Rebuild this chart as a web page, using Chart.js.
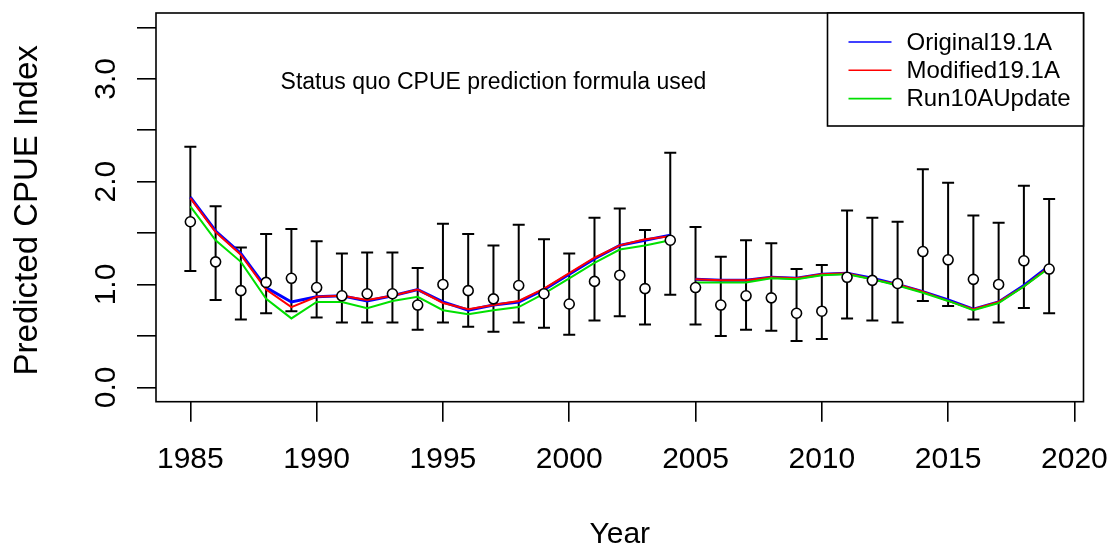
<!DOCTYPE html>
<html>
<head>
<meta charset="utf-8">
<script src="https://cdn.jsdelivr.net/npm/chart.js@4.4.1/dist/chart.umd.min.js"></script>
<style>
  html, body { margin: 0; padding: 0; background: #fff; }
  #wrap { width: 1110px; height: 546px; }
</style>
</head>
<body>
<div id="wrap"><canvas id="cpueChart"></canvas></div>
<script>
// years and the three model runs
const years = [1985, 1986, 1987, 1988, 1989, 1990, 1991, 1992, 1993, 1994,
  1995, 1996, 1997, 1998, 1999, 2000, 2001, 2002, 2003, 2004,
  2005, 2006, 2007, 2008, 2009, 2010, 2011, 2012, 2013, 2014,
  2015, 2016, 2017, 2018, 2019];
const original19 = [1.85, 1.52, 1.30, 0.97, 0.83, 0.88, 0.89, 0.84, 0.89, 0.95,
  0.83, 0.75, 0.80, 0.83, 0.95, 1.10, 1.25, 1.38, 1.43, 1.48,
  1.05, 1.04, 1.04, 1.07, 1.06, 1.10, 1.11, 1.06, 1.00, 0.93,
  0.85, 0.76, 0.83, 0.99, 1.18];
const modified19 = [1.84, 1.51, 1.29, 0.95, 0.78, 0.88, 0.89, 0.85, 0.89, 0.95,
  0.82, 0.76, 0.80, 0.84, 0.96, 1.11, 1.26, 1.38, 1.44, 1.47,
  1.05, 1.04, 1.04, 1.07, 1.06, 1.10, 1.11, 1.05, 1.00, 0.93,
  0.84, 0.76, 0.83, 0.98, 1.17];
const run10A = [1.76, 1.43, 1.22, 0.86, 0.67, 0.83, 0.83, 0.77, 0.84, 0.88,
  0.75, 0.71, 0.75, 0.78, 0.91, 1.06, 1.21, 1.34, 1.38, 1.43,
  1.02, 1.02, 1.02, 1.06, 1.05, 1.09, 1.10, 1.05, 0.99, 0.92,
  0.84, 0.75, 0.82, 0.98, 1.16];
// observed CPUE with its interval
const obsCpue = [1.61, 1.22, 0.94, 1.02, 1.06, 0.97, 0.89, 0.91, 0.91, 0.80,
  1.00, 0.94, 0.86, 0.99, 0.91, 0.81, 1.03, 1.09, 0.96, 1.43,
  0.97, 0.80, 0.89, 0.87, 0.72, 0.74, 1.07, 1.04, 1.01, 1.32,
  1.24, 1.05, 1.00, 1.23, 1.15];
const obsUpper = [2.34, 1.76, 1.36, 1.49, 1.54, 1.42, 1.30, 1.31, 1.31, 1.16,
  1.59, 1.49, 1.38, 1.58, 1.44, 1.30, 1.65, 1.74, 1.53, 2.28,
  1.56, 1.27, 1.43, 1.40, 1.15, 1.19, 1.72, 1.65, 1.61, 2.12,
  1.99, 1.67, 1.60, 1.96, 1.83];
const obsLower = [1.13, 0.85, 0.66, 0.72, 0.74, 0.68, 0.63, 0.63, 0.63, 0.56,
  0.63, 0.59, 0.54, 0.63, 0.58, 0.51, 0.65, 0.69, 0.61, 0.90,
  0.61, 0.50, 0.56, 0.55, 0.45, 0.47, 0.67, 0.65, 0.63, 0.84,
  0.79, 0.66, 0.63, 0.77, 0.72];

const xTicks = [1985, 1990, 1995, 2000, 2005, 2010, 2015, 2020];
const yTicks = [0, 0.5, 1, 1.5, 2, 2.5, 3, 3.5];
const yLabels = [0, 1, 2, 3];
const breakYear = 2004; // lines are not joined between 2004 and 2005
const noteText = 'Status quo CPUE prediction formula used';

const FONT = '"Liberation Sans", Arial, sans-serif';

function pts(vals) {
  return years.map((yr, i) => ({ x: yr, y: vals[i] }));
}

function runLine(label, vals, colour, width, order) {
  return {
    label: label,
    data: pts(vals),
    borderColor: colour,
    borderWidth: width,
    pointRadius: 0,
    tension: 0,
    order: order,
    segment: {
      borderColor: ctx => ctx.p0.parsed.x === breakYear ? 'rgba(0,0,0,0)' : undefined
    }
  };
}

// R style extras: error bars, box, rotated y labels, titles, note, legend
const rPlot = {
  id: 'rPlot',
  beforeDatasetsDraw(chart) {
    const { ctx, scales: { x, y } } = chart;
    ctx.save();
    ctx.strokeStyle = '#000';
    ctx.lineWidth = 2;
    years.forEach((yr, i) => {
      const px = x.getPixelForValue(yr);
      const top = y.getPixelForValue(obsUpper[i]);
      const bot = y.getPixelForValue(obsLower[i]);
      ctx.beginPath();
      ctx.moveTo(px, top); ctx.lineTo(px, bot);
      ctx.moveTo(px - 6, top); ctx.lineTo(px + 6, top);
      ctx.moveTo(px - 6, bot); ctx.lineTo(px + 6, bot);
      ctx.stroke();
    });
    ctx.restore();
  },
  afterDraw(chart) {
    const { ctx, chartArea: a, scales: { x, y } } = chart;
    ctx.save();
    ctx.strokeStyle = '#000';
    ctx.fillStyle = '#000';
    ctx.lineWidth = 1.6;
    ctx.strokeRect(a.left, a.top, a.right - a.left, a.bottom - a.top);

    // y tick labels, parallel to the axis
    ctx.font = '30px ' + FONT;
    ctx.textAlign = 'center';
    ctx.textBaseline = 'alphabetic';
    yLabels.forEach(v => {
      ctx.save();
      ctx.translate(115, y.getPixelForValue(v));
      ctx.rotate(-Math.PI / 2);
      ctx.fillText(v.toFixed(1), 0, 0);
      ctx.restore();
    });

    // axis titles
    ctx.save();
    ctx.font = '33px ' + FONT;
    ctx.translate(37, (a.top + a.bottom) / 2 + 3);
    ctx.rotate(-Math.PI / 2);
    ctx.fillText('Predicted CPUE Index', 0, 0);
    ctx.restore();
    ctx.font = '30px ' + FONT;
    ctx.fillText('Year', (a.left + a.right) / 2, 543);

    // note inside the plot
    ctx.font = '23px ' + FONT;
    ctx.textBaseline = 'middle';
    ctx.fillText(noteText, x.getPixelForValue(1997), y.getPixelForValue(3) + 4);

    // legend box, top right
    const lw = 256, lh = 113;
    const lx = a.right - lw, ly = a.top;
    ctx.fillStyle = '#fff';
    ctx.fillRect(lx, ly, lw, lh);
    ctx.lineWidth = 1.6;
    ctx.strokeRect(lx, ly, lw, lh);
    ctx.font = '24px ' + FONT;
    ctx.textAlign = 'left';
    ctx.textBaseline = 'middle';
    chart.data.datasets.slice(0, 3).forEach((ds, i) => {
      const ry = ly + 29 + i * 28.3;
      ctx.strokeStyle = ds.borderColor;
      ctx.lineWidth = 1.6;
      ctx.beginPath();
      ctx.moveTo(lx + 21, ry); ctx.lineTo(lx + 64, ry);
      ctx.stroke();
      ctx.fillStyle = '#000';
      ctx.fillText(ds.label, lx + 79, ry + 1);
    });
    ctx.restore();
  }
};

new Chart(document.getElementById('cpueChart'), {
  type: 'line',
  data: {
    datasets: [
      runLine('Original19.1A', original19, '#0000ff', 3, 3),
      runLine('Modified19.1A', modified19, '#ff0000', 2, 2),
      runLine('Run10AUpdate', run10A, '#00e000', 2, 1),
      {
        label: 'Observed',
        data: pts(obsCpue),
        showLine: false,
        pointRadius: 5,
        pointBackgroundColor: '#fff',
        pointBorderColor: '#000',
        pointBorderWidth: 1.6,
        order: 0
      }
    ]
  },
  options: {
    responsive: true,
    maintainAspectRatio: false,
    animation: false,
    layout: { padding: { top: 13, right: 26.5, left: 0, bottom: 0 } },
    plugins: { legend: { display: false }, tooltip: { enabled: false } },
    scales: {
      x: {
        type: 'linear',
        min: 1983.64,
        max: 2020.36,
        afterBuildTicks: s => { s.ticks = xTicks.map(v => ({ value: v })); },
        afterFit: s => { s.height = 144.3; s.paddingLeft = 0; s.paddingRight = 0; },
        grid: { drawOnChartArea: false, drawTicks: true, tickLength: 20, color: '#000', lineWidth: 1.6 },
        border: { display: false },
        ticks: {
          autoSkip: false, maxRotation: 0, padding: 20, color: '#000',
          font: { family: FONT, size: 30 },
          callback: v => String(v)
        }
      },
      y: {
        type: 'linear',
        min: -0.14,
        max: 3.64,
        afterBuildTicks: s => { s.ticks = yTicks.map(v => ({ value: v })); },
        afterFit: s => { s.width = 156; s.paddingTop = 0; s.paddingBottom = 0; },
        grid: { drawOnChartArea: false, drawTicks: true, tickLength: 19, color: '#000', lineWidth: 1.6 },
        border: { display: false },
        ticks: { display: false }
      }
    }
  },
  plugins: [rPlot]
});
</script>
</body>
</html>
